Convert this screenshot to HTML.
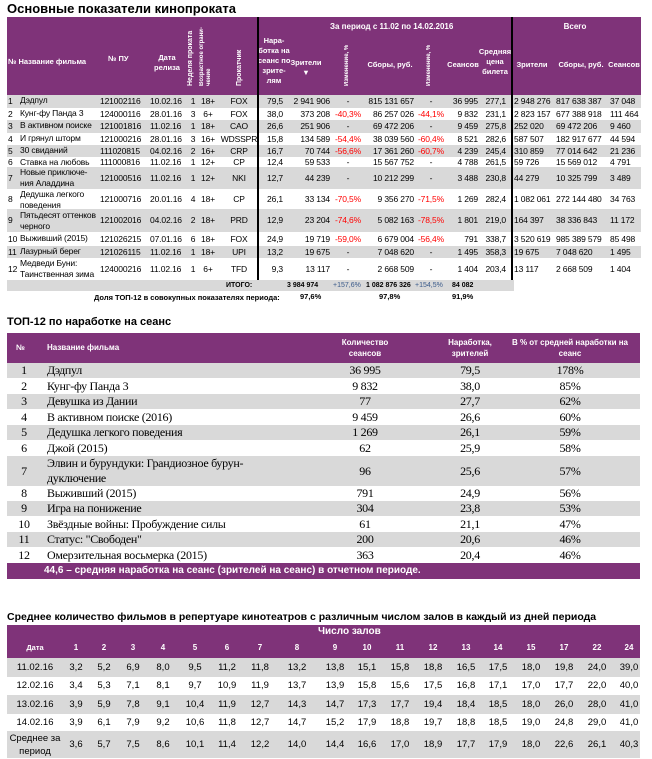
<!DOCTYPE html>
<html><head><meta charset="utf-8">
<style>
*{margin:0;padding:0;box-sizing:border-box}
body{width:652px;height:759px;background:#fff;position:relative;overflow:hidden;font-family:"Liberation Sans",sans-serif;color:#000}
.a{position:absolute;white-space:nowrap}
.pur{position:absolute;background:#7f3379}
.g{position:absolute;background:#d9d9d9}
.r{position:absolute;left:0;width:652px}
.r span{position:absolute;top:0;white-space:nowrap}
.t1{font-size:8.5px;letter-spacing:-0.15px}
.hd{color:#fff;font-weight:bold;font-size:7.5px;line-height:10px;text-align:center}
.rot{writing-mode:vertical-rl;transform:rotate(180deg);color:#fff;font-weight:bold;font-size:7px;line-height:8px}
.t2{font-family:"Liberation Serif",serif;font-size:12px;letter-spacing:-0.3px}
.t3{font-size:9.5px}
</style></head><body>

<div class="a" style="left:7px;top:1px;font-size:13px;font-weight:bold">Основные показатели кинопроката</div>
<div class="pur" style="left:7px;top:17px;width:634px;height:78px"></div>
<div class="a hd" style="left:8px;top:57px;text-align:left">№ Название фильма</div>
<div class="a hd" style="left:108px;top:54px">№ ПУ</div>
<div class="a hd" style="left:150px;top:53px;width:34px">Дата<br>релиза</div>
<div class="a rot" style="left:187px;top:24px;height:62px">Неделя проката</div>
<div class="a rot" style="left:199px;top:24px;height:62px;font-size:6px;line-height:7px">Возрастное ограни-<br>чение</div>
<div class="a rot" style="left:236px;top:24px;height:62px">Прокатчик</div>
<div class="a hd" style="left:258px;top:36px;width:32px">Нара-<br>ботка на<br>сеанс по<br>зрите-<br>лям</div>
<div class="a hd" style="left:288px;top:58px;width:36px">Зрители<br>▼</div>
<div class="a rot" style="left:343px;top:38px;height:48px;font-size:6px">Изменение, %</div>
<div class="a hd" style="left:365px;top:60px;width:50px">Сборы, руб.</div>
<div class="a rot" style="left:425px;top:38px;height:48px;font-size:6px">Изменение, %</div>
<div class="a hd" style="left:447px;top:60px;width:32px">Сеансов</div>
<div class="a hd" style="left:478px;top:47px;width:34px">Средняя<br>цена<br>билета</div>
<div class="a hd" style="left:330px;top:22px;width:110px;font-size:8px">За период с 11.02 по 14.02.2016</div>
<div class="a hd" style="left:555px;top:22px;width:40px;font-size:8px">Всего</div>
<div class="a hd" style="left:513px;top:60px;width:38px">Зрители</div>
<div class="a hd" style="left:556px;top:60px;width:50px">Сборы, руб.</div>
<div class="a hd" style="left:607px;top:60px;width:34px">Сеансов</div>

<div class="g" style="left:7px;top:95px;width:634px;height:13px"></div>
<div class="g" style="left:7px;top:120px;width:634px;height:13px"></div>
<div class="g" style="left:7px;top:145px;width:634px;height:12px"></div>
<div class="g" style="left:7px;top:167px;width:634px;height:22px"></div>
<div class="g" style="left:7px;top:209px;width:634px;height:23px"></div>
<div class="g" style="left:7px;top:246px;width:634px;height:12px"></div>
<div class="g" style="left:7px;top:280px;width:507px;height:11px"></div>

<div class="a" style="left:257px;top:17px;width:2px;height:263px;background:#000"></div>
<div class="a" style="left:511px;top:17px;width:2px;height:263px;background:#000"></div>

<style>
.t1 .n{left:8px}.t1 .nm{left:20px;line-height:10.5px}.t1 .pu{left:100px}.t1 .dt{left:150px}
.t1 .wk{left:188px;width:10px;text-align:center}.t1 .ag{left:200px;width:16px;text-align:center}
.t1 .ds{left:220px;width:38px;text-align:center}.t1 .na{left:250px;width:33px;text-align:right}
.t1 .zr{left:280px;width:50px;text-align:right}.t1 .ch{left:331px;width:34px;text-align:center;color:#f00}
.t1 .sb{left:355px;width:59px;text-align:right}.t1 .c2{left:414px;width:34px;text-align:center;color:#f00}
.t1 .se{left:445px;width:33px;text-align:right}.t1 .av{left:478px;width:28px;text-align:right}
.t1 .tz{left:514px}.t1 .ts{left:556px}.t1 .tse{left:610px}
</style>

<div class="r t1" style="top:95px;height:13px;line-height:13px"><span class="n">1</span><span class="nm">Дэдпул</span><span class="pu">121002116</span><span class="dt">10.02.16</span><span class="wk">1</span><span class="ag">18+</span><span class="ds">FOX</span><span class="na">79,5</span><span class="zr">2 941 906</span><span class="ch" style="color:#000">-</span><span class="sb">815 131 657</span><span class="c2" style="color:#000">-</span><span class="se">36 995</span><span class="av">277,1</span><span class="tz">2 948 276</span><span class="ts">817 638 387</span><span class="tse">37 048</span></div>
<div class="r t1" style="top:108px;height:12px;line-height:12px"><span class="n">2</span><span class="nm">Кунг-фу Панда 3</span><span class="pu">124000116</span><span class="dt">28.01.16</span><span class="wk">3</span><span class="ag">6+</span><span class="ds">FOX</span><span class="na">38,0</span><span class="zr">373 208</span><span class="ch">-40,3%</span><span class="sb">86 257 026</span><span class="c2">-44,1%</span><span class="se">9 832</span><span class="av">231,1</span><span class="tz">2 823 157</span><span class="ts">677 388 918</span><span class="tse">111 464</span></div>
<div class="r t1" style="top:120px;height:13px;line-height:13px"><span class="n">3</span><span class="nm">В активном поиске</span><span class="pu">121001816</span><span class="dt">11.02.16</span><span class="wk">1</span><span class="ag">18+</span><span class="ds">CAO</span><span class="na">26,6</span><span class="zr">251 906</span><span class="ch" style="color:#000">-</span><span class="sb">69 472 206</span><span class="c2" style="color:#000">-</span><span class="se">9 459</span><span class="av">275,8</span><span class="tz">252 020</span><span class="ts">69 472 206</span><span class="tse">9 460</span></div>
<div class="r t1" style="top:133px;height:12px;line-height:12px"><span class="n">4</span><span class="nm">И грянул шторм</span><span class="pu">121000216</span><span class="dt">28.01.16</span><span class="wk">3</span><span class="ag">16+</span><span class="ds">WDSSPR</span><span class="na">15,8</span><span class="zr">134 589</span><span class="ch">-54,4%</span><span class="sb">38 039 560</span><span class="c2">-60,4%</span><span class="se">8 521</span><span class="av">282,6</span><span class="tz">587 507</span><span class="ts">182 917 677</span><span class="tse">44 594</span></div>
<div class="r t1" style="top:145px;height:12px;line-height:12px"><span class="n">5</span><span class="nm">30 свиданий</span><span class="pu">111020815</span><span class="dt">04.02.16</span><span class="wk">2</span><span class="ag">16+</span><span class="ds">CRP</span><span class="na">16,7</span><span class="zr">70 744</span><span class="ch">-56,6%</span><span class="sb">17 361 260</span><span class="c2">-60,7%</span><span class="se">4 239</span><span class="av">245,4</span><span class="tz">310 859</span><span class="ts">77 014 642</span><span class="tse">21 236</span></div>
<div class="r t1" style="top:157px;height:10px;line-height:10px"><span class="n">6</span><span class="nm" style="line-height:10px">Ставка на любовь</span><span class="pu">111000816</span><span class="dt">11.02.16</span><span class="wk">1</span><span class="ag">12+</span><span class="ds">CP</span><span class="na">12,4</span><span class="zr">59 533</span><span class="ch" style="color:#000">-</span><span class="sb">15 567 752</span><span class="c2" style="color:#000">-</span><span class="se">4 788</span><span class="av">261,5</span><span class="tz">59 726</span><span class="ts">15 569 012</span><span class="tse">4 791</span></div>
<div class="r t1" style="top:167px;height:22px;line-height:22px"><span class="n">7</span><span class="nm" style="top:0">Новые приключе-<br>ния Аладдина</span><span class="pu">121000516</span><span class="dt">11.02.16</span><span class="wk">1</span><span class="ag">12+</span><span class="ds">NKI</span><span class="na">12,7</span><span class="zr">44 239</span><span class="ch" style="color:#000">-</span><span class="sb">10 212 299</span><span class="c2" style="color:#000">-</span><span class="se">3 488</span><span class="av">230,8</span><span class="tz">44 279</span><span class="ts">10 325 799</span><span class="tse">3 489</span></div>
<div class="r t1" style="top:189px;height:20px;line-height:20px"><span class="n">8</span><span class="nm" style="top:0">Дедушка легкого<br>поведения</span><span class="pu">121000716</span><span class="dt">20.01.16</span><span class="wk">4</span><span class="ag">18+</span><span class="ds">CP</span><span class="na">26,1</span><span class="zr">33 134</span><span class="ch">-70,5%</span><span class="sb">9 356 270</span><span class="c2">-71,5%</span><span class="se">1 269</span><span class="av">282,4</span><span class="tz">1 082 061</span><span class="ts">272 144 480</span><span class="tse">34 763</span></div>
<div class="r t1" style="top:209px;height:23px;line-height:23px"><span class="n">9</span><span class="nm" style="top:1px">Пятьдесят оттенков<br>черного</span><span class="pu">121002016</span><span class="dt">04.02.16</span><span class="wk">2</span><span class="ag">18+</span><span class="ds">PRD</span><span class="na">12,9</span><span class="zr">23 204</span><span class="ch">-74,6%</span><span class="sb">5 082 163</span><span class="c2">-78,5%</span><span class="se">1 801</span><span class="av">219,0</span><span class="tz">164 397</span><span class="ts">38 336 843</span><span class="tse">11 172</span></div>
<div class="r t1" style="top:233px;height:13px;line-height:13px"><span class="n">10</span><span class="nm">Выживший (2015)</span><span class="pu">121026215</span><span class="dt">07.01.16</span><span class="wk">6</span><span class="ag">18+</span><span class="ds">FOX</span><span class="na">24,9</span><span class="zr">19 719</span><span class="ch">-59,0%</span><span class="sb">6 679 004</span><span class="c2">-56,4%</span><span class="se">791</span><span class="av">338,7</span><span class="tz">3 520 619</span><span class="ts">985 389 579</span><span class="tse">85 498</span></div>
<div class="r t1" style="top:246px;height:12px;line-height:12px"><span class="n">11</span><span class="nm">Лазурный берег</span><span class="pu">121026115</span><span class="dt">11.02.16</span><span class="wk">1</span><span class="ag">18+</span><span class="ds">UPI</span><span class="na">13,2</span><span class="zr">19 675</span><span class="ch" style="color:#000">-</span><span class="sb">7 048 620</span><span class="c2" style="color:#000">-</span><span class="se">1 495</span><span class="av">358,3</span><span class="tz">19 675</span><span class="ts">7 048 620</span><span class="tse">1 495</span></div>
<div class="r t1" style="top:258px;height:22px;line-height:22px"><span class="n">12</span><span class="nm" style="top:0">Медведи Буни:<br>Таинственная зима</span><span class="pu">124000216</span><span class="dt">11.02.16</span><span class="wk">1</span><span class="ag">6+</span><span class="ds">TFD</span><span class="na">9,3</span><span class="zr">13 117</span><span class="ch" style="color:#000">-</span><span class="sb">2 668 509</span><span class="c2" style="color:#000">-</span><span class="se">1 404</span><span class="av">203,4</span><span class="tz">13 117</span><span class="ts">2 668 509</span><span class="tse">1 404</span></div>

<div class="a" style="left:226px;top:280px;font-size:7px;font-weight:bold;line-height:11px">ИТОГО:</div>
<div class="a" style="left:287px;top:280px;font-size:7px;font-weight:bold;line-height:11px">3 984 974</div>
<div class="a" style="left:333px;top:280px;font-size:7px;line-height:11px;color:#3a5a8a">+157,6%</div>
<div class="a" style="left:366px;top:280px;font-size:7px;font-weight:bold;line-height:11px">1 082 876 326</div>
<div class="a" style="left:415px;top:280px;font-size:7px;line-height:11px;color:#3a5a8a">+154,5%</div>
<div class="a" style="left:452px;top:280px;font-size:7px;font-weight:bold;line-height:11px">84 082</div>
<div class="a" style="left:94px;top:292px;font-size:7.5px;font-weight:bold;line-height:11px">Доля ТОП-12 в совокупных показателях периода:</div>
<div class="a" style="left:300px;top:291px;font-size:7.5px;font-weight:bold;line-height:11px">97,6%</div>
<div class="a" style="left:379px;top:291px;font-size:7.5px;font-weight:bold;line-height:11px">97,8%</div>
<div class="a" style="left:452px;top:291px;font-size:7.5px;font-weight:bold;line-height:11px">91,9%</div>

<div class="a" style="left:7px;top:316px;font-size:11px;font-weight:bold">ТОП-12 по наработке на сеанс</div>
<div class="pur" style="left:7px;top:333px;width:633px;height:30px"></div>
<div class="a hd" style="left:16px;top:343px;font-size:8px">№</div>
<div class="a hd" style="left:47px;top:343px;font-size:8px">Название фильма</div>
<div class="a hd" style="left:330px;top:337px;width:70px;font-size:8px;line-height:11px">Количество<br>сеансов</div>
<div class="a hd" style="left:435px;top:337px;width:70px;font-size:8px;line-height:11px">Наработка,<br>зрителей</div>
<div class="a hd" style="left:500px;top:337px;width:140px;font-size:8px;line-height:11px">В % от средней наработки на<br>сеанс</div>

<div class="g" style="left:7px;top:363px;width:633px;height:15px"></div>
<div class="g" style="left:7px;top:394px;width:633px;height:15px"></div>
<div class="g" style="left:7px;top:425px;width:633px;height:15px"></div>
<div class="g" style="left:7px;top:456px;width:633px;height:30px"></div>
<div class="g" style="left:7px;top:501px;width:633px;height:15px"></div>
<div class="g" style="left:7px;top:532px;width:633px;height:15px"></div>
<div class="pur" style="left:7px;top:563px;width:633px;height:16px"></div>
<div class="a" style="left:44px;top:564px;font-size:10px;font-weight:bold;color:#fff;line-height:14px">44,6 – средняя наработка на сеанс (зрителей на сеанс) в отчетном периоде.</div>

<style>
.t2 .n{left:14px;width:20px;text-align:center}.t2 .nm{left:47px}
.t2 .k{left:325px;width:80px;text-align:center}.t2 .w{left:430px;width:80px;text-align:center}.t2 .p{left:530px;width:80px;text-align:center}
</style>
<div class="r t2" style="top:363px;line-height:15px"><span class="n">1</span><span class="nm">Дэдпул</span><span class="k">36 995</span><span class="w">79,5</span><span class="p">178%</span></div>
<div class="r t2" style="top:378px;line-height:16px"><span class="n">2</span><span class="nm">Кунг-фу Панда 3</span><span class="k">9 832</span><span class="w">38,0</span><span class="p">85%</span></div>
<div class="r t2" style="top:394px;line-height:15px"><span class="n">3</span><span class="nm">Девушка из Дании</span><span class="k">77</span><span class="w">27,7</span><span class="p">62%</span></div>
<div class="r t2" style="top:409px;line-height:16px"><span class="n">4</span><span class="nm">В активном поиске (2016)</span><span class="k">9 459</span><span class="w">26,6</span><span class="p">60%</span></div>
<div class="r t2" style="top:425px;line-height:15px"><span class="n">5</span><span class="nm">Дедушка легкого поведения</span><span class="k">1 269</span><span class="w">26,1</span><span class="p">59%</span></div>
<div class="r t2" style="top:440px;line-height:16px"><span class="n">6</span><span class="nm">Джой (2015)</span><span class="k">62</span><span class="w">25,9</span><span class="p">58%</span></div>
<div class="r t2" style="top:456px;line-height:30px"><span class="n">7</span><span class="nm" style="line-height:15px">Элвин и бурундуки: Грандиозное бурун-<br>дуключение</span><span class="k">96</span><span class="w">25,6</span><span class="p">57%</span></div>
<div class="r t2" style="top:486px;line-height:15px"><span class="n">8</span><span class="nm">Выживший (2015)</span><span class="k">791</span><span class="w">24,9</span><span class="p">56%</span></div>
<div class="r t2" style="top:501px;line-height:15px"><span class="n">9</span><span class="nm">Игра на понижение</span><span class="k">304</span><span class="w">23,8</span><span class="p">53%</span></div>
<div class="r t2" style="top:516px;line-height:16px"><span class="n">10</span><span class="nm">Звёздные войны: Пробуждение силы</span><span class="k">61</span><span class="w">21,1</span><span class="p">47%</span></div>
<div class="r t2" style="top:532px;line-height:15px"><span class="n">11</span><span class="nm">Статус: "Свободен"</span><span class="k">200</span><span class="w">20,6</span><span class="p">46%</span></div>
<div class="r t2" style="top:547px;line-height:16px"><span class="n">12</span><span class="nm">Омерзительная восьмерка (2015)</span><span class="k">363</span><span class="w">20,4</span><span class="p">46%</span></div>

<div class="a" style="left:7px;top:611px;font-size:10.5px;font-weight:bold">Среднее количество фильмов в репертуаре кинотеатров с различным числом залов в каждый из дней периода</div>
<div class="pur" style="left:7px;top:625px;width:633px;height:33px"></div>
<div class="a" style="left:318px;top:626px;font-size:10px;font-weight:bold;color:#fff">Число залов</div>
<div class="g" style="left:7px;top:658px;width:633px;height:19px"></div>
<div class="g" style="left:7px;top:695px;width:633px;height:19px"></div>
<div class="g" style="left:7px;top:731px;width:633px;height:27px"></div>

<style>
.t3 span{width:30px;margin-left:-15px;text-align:center}
.t3 .d{left:7px;width:56px;margin-left:0}
.hr span{color:#fff;font-weight:bold;font-size:8px}
</style>
<div class="r t3 hr" style="top:642px;line-height:12px"><span class="d" style="font-size:7.5px">Дата</span><span style="left:76px">1</span><span style="left:104px">2</span><span style="left:133px">3</span><span style="left:163px">4</span><span style="left:195px">5</span><span style="left:227px">6</span><span style="left:260px">7</span><span style="left:297px">8</span><span style="left:335px">9</span><span style="left:367px">10</span><span style="left:400px">11</span><span style="left:433px">12</span><span style="left:466px">13</span><span style="left:498px">14</span><span style="left:531px">15</span><span style="left:564px">17</span><span style="left:597px">22</span><span style="left:629px">24</span></div>
<div class="r t3" style="top:658px;line-height:19px"><span class="d">11.02.16</span><span style="left:76px">3,2</span><span style="left:104px">5,2</span><span style="left:133px">6,9</span><span style="left:163px">8,0</span><span style="left:195px">9,5</span><span style="left:227px">11,2</span><span style="left:260px">11,8</span><span style="left:297px">13,2</span><span style="left:335px">13,8</span><span style="left:367px">15,1</span><span style="left:400px">15,8</span><span style="left:433px">18,8</span><span style="left:466px">16,5</span><span style="left:498px">17,5</span><span style="left:531px">18,0</span><span style="left:564px">19,8</span><span style="left:597px">24,0</span><span style="left:629px">39,0</span></div>
<div class="r t3" style="top:677px;line-height:18px"><span class="d">12.02.16</span><span style="left:76px">3,4</span><span style="left:104px">5,3</span><span style="left:133px">7,1</span><span style="left:163px">8,1</span><span style="left:195px">9,7</span><span style="left:227px">10,9</span><span style="left:260px">11,9</span><span style="left:297px">13,7</span><span style="left:335px">13,9</span><span style="left:367px">15,8</span><span style="left:400px">15,6</span><span style="left:433px">17,5</span><span style="left:466px">16,8</span><span style="left:498px">17,1</span><span style="left:531px">17,0</span><span style="left:564px">17,7</span><span style="left:597px">22,0</span><span style="left:629px">40,0</span></div>
<div class="r t3" style="top:695px;line-height:19px"><span class="d">13.02.16</span><span style="left:76px">3,9</span><span style="left:104px">5,9</span><span style="left:133px">7,8</span><span style="left:163px">9,1</span><span style="left:195px">10,4</span><span style="left:227px">11,9</span><span style="left:260px">12,7</span><span style="left:297px">14,3</span><span style="left:335px">14,7</span><span style="left:367px">17,3</span><span style="left:400px">17,7</span><span style="left:433px">19,4</span><span style="left:466px">18,4</span><span style="left:498px">18,5</span><span style="left:531px">18,0</span><span style="left:564px">26,0</span><span style="left:597px">28,0</span><span style="left:629px">41,0</span></div>
<div class="r t3" style="top:714px;line-height:17px"><span class="d">14.02.16</span><span style="left:76px">3,9</span><span style="left:104px">6,1</span><span style="left:133px">7,9</span><span style="left:163px">9,2</span><span style="left:195px">10,6</span><span style="left:227px">11,8</span><span style="left:260px">12,7</span><span style="left:297px">14,7</span><span style="left:335px">15,2</span><span style="left:367px">17,9</span><span style="left:400px">18,8</span><span style="left:433px">19,7</span><span style="left:466px">18,8</span><span style="left:498px">18,5</span><span style="left:531px">19,0</span><span style="left:564px">24,8</span><span style="left:597px">29,0</span><span style="left:629px">41,0</span></div>
<div class="r t3" style="top:731px;line-height:27px"><span class="d" style="line-height:13px;top:1px">Среднее за<br>период</span><span style="left:76px">3,6</span><span style="left:104px">5,7</span><span style="left:133px">7,5</span><span style="left:163px">8,6</span><span style="left:195px">10,1</span><span style="left:227px">11,4</span><span style="left:260px">12,2</span><span style="left:297px">14,0</span><span style="left:335px">14,4</span><span style="left:367px">16,6</span><span style="left:400px">17,0</span><span style="left:433px">18,9</span><span style="left:466px">17,7</span><span style="left:498px">17,9</span><span style="left:531px">18,0</span><span style="left:564px">22,6</span><span style="left:597px">26,1</span><span style="left:629px">40,3</span></div>

</body></html>
